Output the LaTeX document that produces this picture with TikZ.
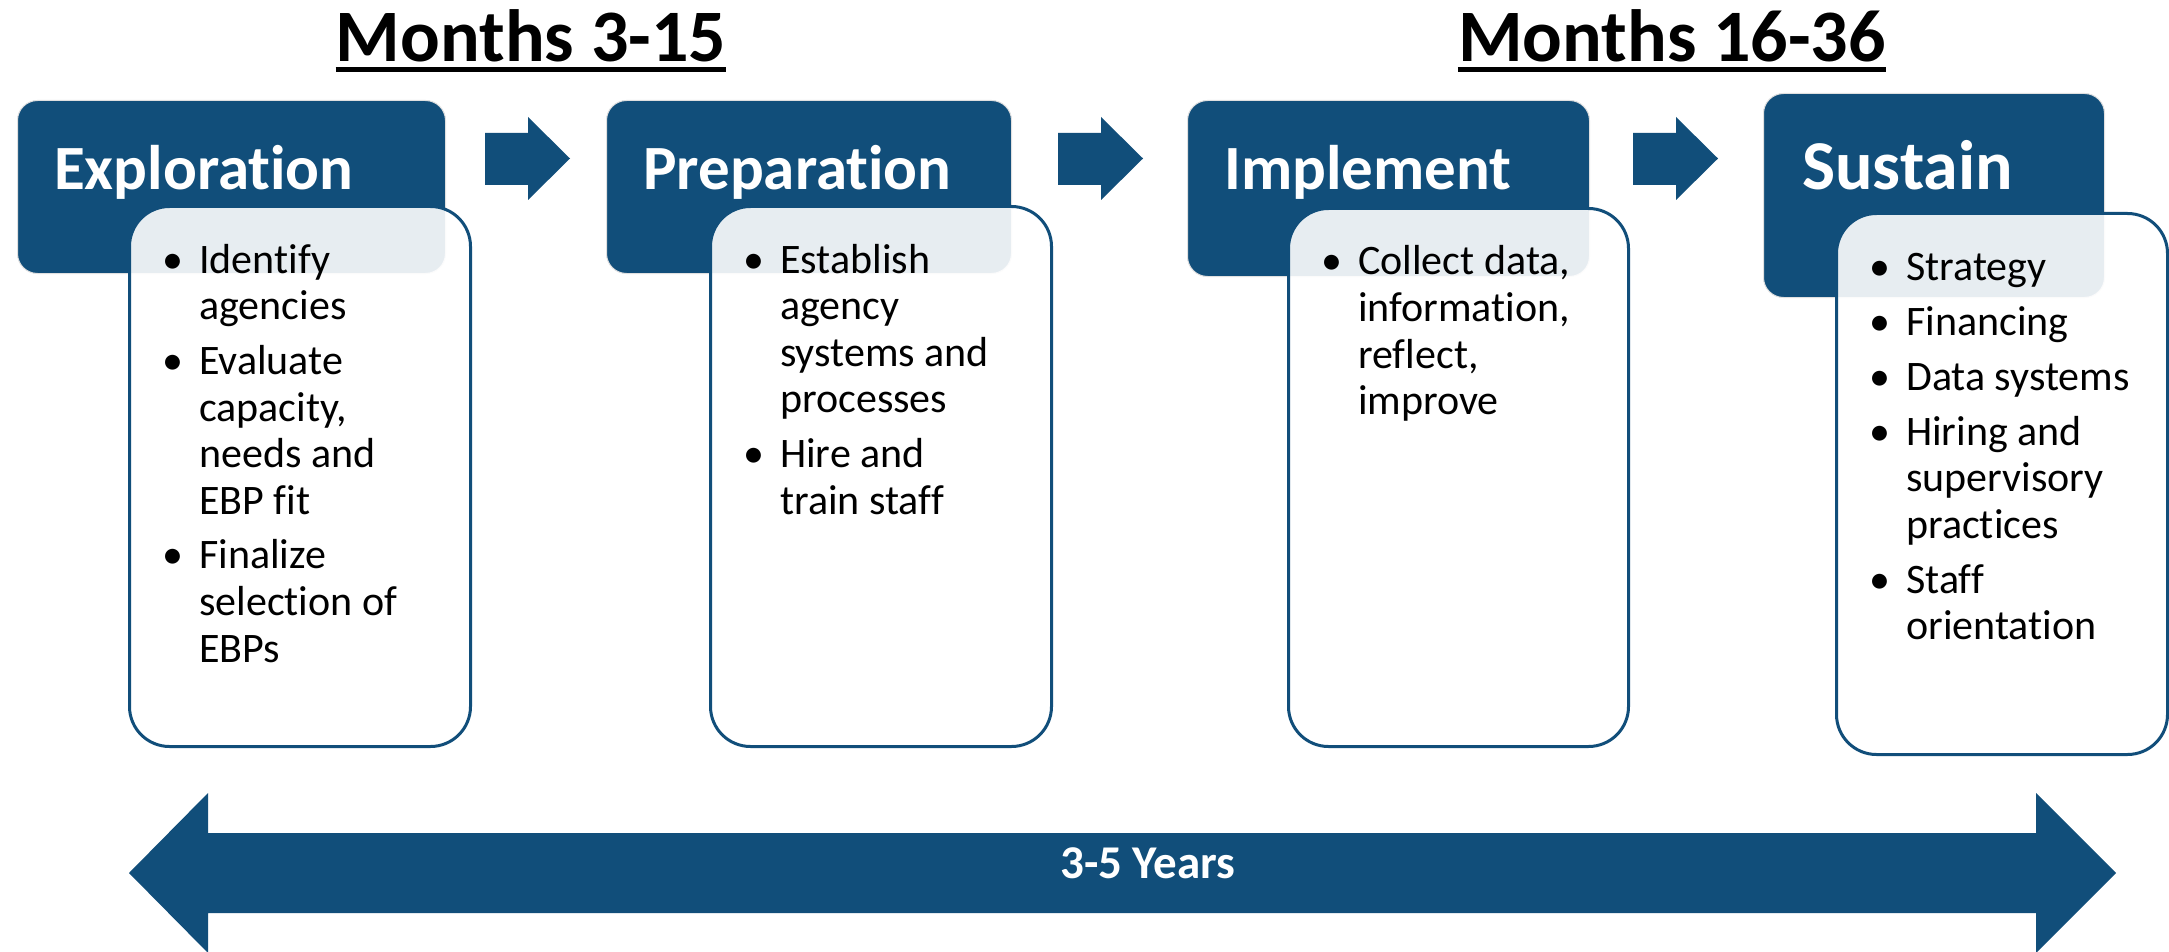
\documentclass[tikz,border=0pt]{standalone}
\usepackage{fontspec}
\setmainfont{Carlito}[Ligatures=NoCommon]
\definecolor{dblue}{RGB}{17,78,122}
\newcommand{\bul}{\makebox[37pt][l]{•}}
\newcommand{\bitem}[1]{\hangindent=37pt\hangafter=1\noindent\bul #1\par}
\newenvironment{blist}{\begin{minipage}[t]{330pt}\raggedright\fontsize{42}{46.5}\selectfont\parskip=8.5pt\parindent=0pt}{\end{minipage}}
\begin{document}
\begin{tikzpicture}[x=1pt,y=-1pt,
  hdr/.style={fill=dblue, draw=black!12, line width=1pt, rounded corners=20pt, anchor=north west, inner sep=0pt},
  bbox/.style={fill=white, fill opacity=0.9, draw=dblue, draw opacity=1, line width=3pt, rounded corners=40pt, anchor=north west, inner sep=0pt},
  htext/.style={anchor=base west, inner sep=0pt, text=white, font=\fontsize{63}{70}\selectfont\bfseries},
  btext/.style={anchor=base west, inner sep=0pt, text=black},
  mtext/.style={anchor=base, inner sep=0pt, text=black, font=\fontsize{74}{80}\selectfont\bfseries},
  ulin/.style={line width=5pt, black},
  blk/.style={fill=dblue}
]
\useasboundingbox (0,0) rectangle (2169,952);
\fill[white] (0,0) rectangle (2169,952);

% month headings
\node[mtext] (m1) at (531,62) {Months 3-15};
\node[mtext] (m2) at (1672,62) {Months 16-36};
\draw[ulin] ([yshift=-8pt]m1.base west) -- ([yshift=-8pt]m1.base east);
\draw[ulin] ([yshift=-8pt]m2.base west) -- ([yshift=-8pt]m2.base east);

% headers
\node[hdr, minimum width=428pt, minimum height=173pt] (h1) at (17,100) {};
\node[hdr, minimum width=405pt, minimum height=173pt] (h2) at (606,100) {};
\node[hdr, minimum width=402pt, minimum height=176pt] (h3) at (1187,100) {};
\node[hdr, minimum width=341pt, minimum height=204pt] (h4) at (1763,93) {};

\node[htext] (ht1) at ([xshift=37pt]h1.west |- 0,190) {Exploration};
\node[htext] (ht2) at ([xshift=37pt]h2.west |- 0,190) {Preparation};
\node[htext] (ht3) at ([xshift=37pt]h3.west |- 0,190) {Implement};
\node[htext, font=\fontsize{70}{76}\selectfont\bfseries] (ht4) at ([xshift=39pt]h4.west |- 0,190) {Sustain};

% bullet boxes
\node[bbox, minimum width=341pt, minimum height=540pt] (b1) at (128,205) {};
\node[bbox, minimum width=341pt, minimum height=540pt] (b2) at (709,205) {};
\node[bbox, minimum width=340pt, minimum height=538pt] (b3) at (1287,207) {};
\node[bbox, minimum width=331pt, minimum height=541pt] (b4) at (1835,212) {};

\node[btext] (t1) at ([xshift=34pt,yshift=-68pt]b1.north west) {\begin{blist}
\bitem{Identify\newline agencies}
\bitem{Evaluate\newline capacity,\newline needs and\newline EBP fit}
\bitem{Finalize\newline selection of\newline EBPs}
\end{blist}};
\node[btext] (t2) at ([xshift=34pt,yshift=-68pt]b2.north west) {\begin{blist}
\bitem{Establish\newline agency\newline systems and\newline processes}
\bitem{Hire and\newline train staff}
\end{blist}};
\node[btext] (t3) at ([xshift=34pt,yshift=-68pt]b3.north west) {\begin{blist}
\bitem{Collect data,\newline information,\newline reflect,\newline improve}
\end{blist}};
\node[btext] (t4) at ([xshift=34pt,yshift=-68pt]b4.north west) {\begin{blist}
\bitem{Strategy}
\bitem{Financing}
\bitem{Data systems}
\bitem{Hiring and\newline supervisory\newline practices}
\bitem{Staff\newline orientation}
\end{blist}};

% small block arrows
\foreach \x in {485,1058,1633}{
  \fill[blk] (\x,133) -- (\x+43,133) -- (\x+43,117) -- (\x+85,158.5) -- (\x+43,200) -- (\x+43,185) -- (\x,185) -- cycle;
}

% big double arrow
\fill[blk] (129,873) -- (208,793) -- (208,833) -- (2036,833) -- (2036,793) -- (2116,873) -- (2036,953) -- (2036,913) -- (208,913) -- (208,953) -- cycle;
\node[anchor=base west, inner sep=0pt, text=white, font=\fontsize{47}{52}\selectfont\bfseries] (yrs) at (1060,878) {3-5 Years};
\end{tikzpicture}
\end{document}
